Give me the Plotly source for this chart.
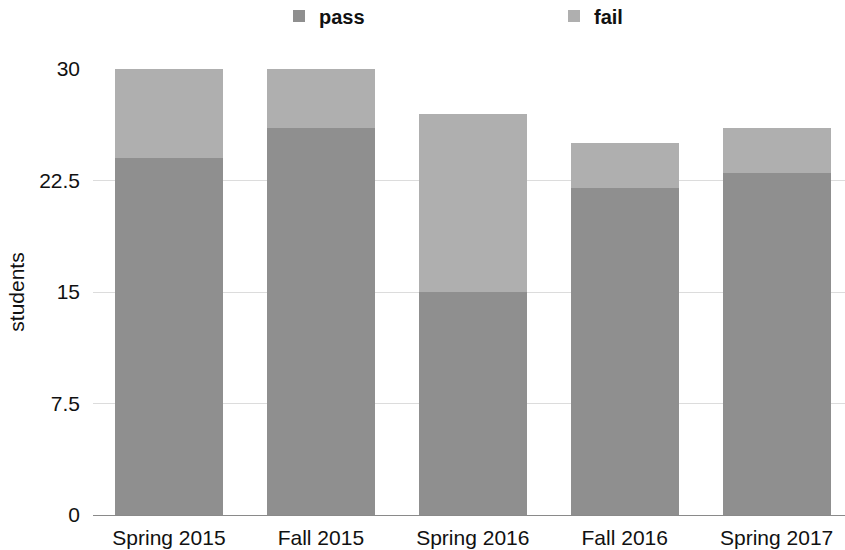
import plotly.graph_objects as go

semesters = ["Spring 2015", "Fall 2015", "Spring 2016", "Fall 2016", "Spring 2017"]
passed = [24, 26, 15, 22, 23]
failed = [6, 4, 12, 3, 3]

fig = go.Figure()

fig.add_trace(go.Bar(
    x=semesters, y=passed, name="pass",
    marker=dict(color="#8f8f8f", line=dict(width=0)),
))
fig.add_trace(go.Bar(
    x=semesters, y=failed, name="fail",
    marker=dict(color="#afafaf", line=dict(width=0)),
))

fig.update_layout(
    width=845, height=550,
    barmode="stack",
    bargap=0.29,
    margin=dict(l=93, r=0, t=69, b=35),
    paper_bgcolor="white",
    plot_bgcolor="white",
    font=dict(family="Liberation Sans, Arial, sans-serif", size=21, color="#111111"),
    legend=dict(
        orientation="h",
        xref="container", yref="container",
        x=279 / 845, y=1 - 16 / 550, xanchor="left", yanchor="middle",
        entrywidth=230, entrywidthmode="pixels",
        font=dict(size=20, weight="bold"),
        traceorder="normal",
    ),
    xaxis=dict(
        range=[-0.5, 4.45],
        showgrid=False,
        showline=True, linecolor="#8a8a8a", linewidth=1,
        ticks="", tickfont=dict(size=21),
        ticklabelstandoff=4,
    ),
    yaxis=dict(
        range=[0, 30],
        tickvals=[0, 7.5, 15, 22.5, 30],
        ticktext=["0", "7.5", "15", "22.5", "30"],
        showgrid=True, gridcolor="#dcdcdc", gridwidth=1,
        zeroline=False,
        ticklabelstandoff=12,
        tickfont=dict(size=21),
        title=dict(text="students", font=dict(size=21), standoff=8),
    ),
)

# drop the default 8px body margin so the figure sits flush in the window
fig.write_html(
    "out.html",
    config={"displayModeBar": False},
    post_script="document.body.style.margin='0';",
)
